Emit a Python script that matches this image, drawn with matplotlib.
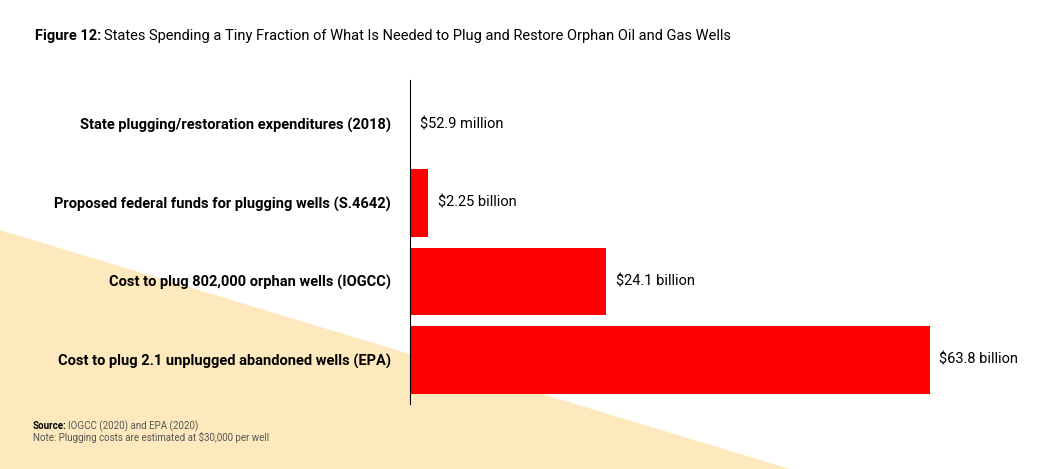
import matplotlib.pyplot as plt
from matplotlib.patches import Polygon

labels = [
    "State plugging/restoration expenditures (2018)",
    "Proposed federal funds for plugging wells (S.4642)",
    "Cost to plug 802,000 orphan wells (IOGCC)",
    "Cost to plug 2.1 unplugged abandoned wells (EPA)",
]
values = [0.0529, 2.25, 24.1, 63.8]  # billions
value_labels = ["$52.9 million", "$2.25 billion", "$24.1 billion", "$63.8 billion"]

plt.rcParams["font.family"] = ["Roboto", "DejaVu Sans"]

fig = plt.figure(figsize=(10.6, 4.69), dpi=100)
fig.patch.set_facecolor("white")

# pale yellow triangle in the background
tri = Polygon([(0, 1 - 230 / 469), (790 / 1060, 0), (0, 0)], closed=True,
              transform=fig.transFigure, facecolor="#fde9bd", edgecolor="none", zorder=-5)
fig.patches.append(tri)

ax = fig.add_axes([410 / 1060, 0.139, 570 / 1060, 0.69])
ax.set_zorder(1)
ax.patch.set_alpha(0)
y = list(range(len(labels)))
ax.barh(y, values, height=0.86, color="#ff0000")
ax.set_ylim(3.56, -0.56)
ax.set_xlim(0, 70)
ax.set_yticks(y)
ax.set_yticklabels(labels, fontsize=10.5, fontweight="bold")
ax.tick_params(axis="y", length=0, pad=14)
ax.set_xticks([])
for s in ["top", "right", "bottom"]:
    ax.spines[s].set_visible(False)
ax.spines["left"].set_linewidth(0.8)
for yi, v, t in zip(y, values, value_labels):
    ax.text(v + 1.2, yi, t, va="center", ha="left", fontsize=10.5)

fig.text(35 / 1060, 1 - 36 / 469, "Figure 12:", fontsize=10.5, fontweight="bold", va="center")
fig.text(104 / 1060, 1 - 36 / 469,
         "States Spending a Tiny Fraction of What Is Needed to Plug and Restore Orphan Oil and Gas Wells",
         fontsize=10.5, va="center")
fig.text(33 / 1060, 1 - 426 / 469, "Source:", fontsize=7, fontweight="bold", va="center")
fig.text(68 / 1060, 1 - 426 / 469, "IOGCC (2020) and EPA (2020)", fontsize=7, color="#555555", va="center")
fig.text(33 / 1060, 1 - 437 / 469, "Note: Plugging costs are estimated at $30,000 per well",
         fontsize=7, color="#555555", va="center")

fig.savefig("out.png", dpi=100)
